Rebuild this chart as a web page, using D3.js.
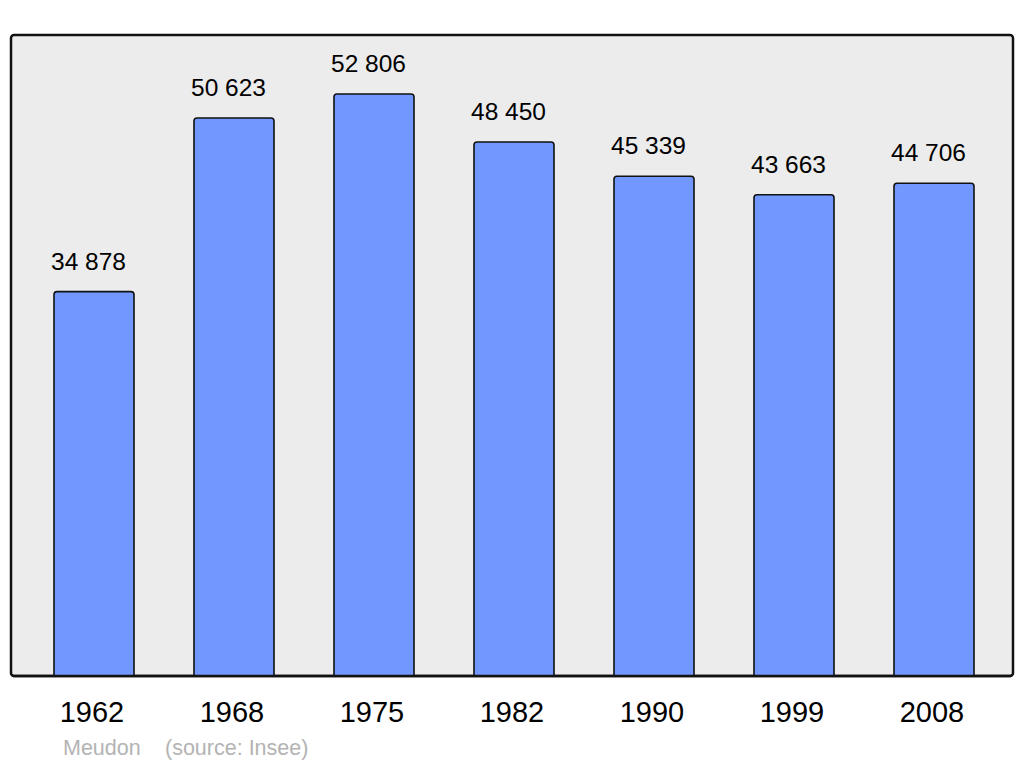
<!DOCTYPE html>
<html><head><meta charset="utf-8">
<script src="https://cdn.jsdelivr.net/npm/d3@7"></script>
<style>body{margin:0;background:#fff}svg{display:block}</style>
</head><body>
<script>
const years = ["1962","1968","1975","1982","1990","1999","2008"];
const population = [34878, 50623, 52806, 48450, 45339, 43663, 44706];
const valueLabels = ["34 878","50 623","52 806","48 450","45 339","43 663","44 706"];
const townName = "Meudon";
const sourceText = "(source: Insee)";

const W = 1024, H = 765;
const svg = d3.select("body").append("svg").attr("width", W).attr("height", H);
const font = "'Liberation Sans', Arial, sans-serif";

const panel = {x0: 11, x1: 1013, y0: 35, y1: 676};
svg.append("rect").attr("x", panel.x0).attr("y", panel.y0)
  .attr("width", panel.x1 - panel.x0).attr("height", panel.y1 - panel.y0)
  .attr("rx", 3).attr("fill", "#ececec").attr("stroke", "#111").attr("stroke-width", 2.5);

const x = d3.scaleBand().domain(years).range([24, 1004]).paddingInner(0.4286).paddingOuter(0.2143);
const y = d3.scaleLinear().domain([0, 58160]).range([panel.y1, panel.y0]);

const bw = x.bandwidth();
const r = 3;
function barPath(d, i) {
  const x0 = x(years[i]), x1 = x0 + bw, yt = y(d), yb = y(0);
  return `M${x0},${yb} L${x0},${yt + r} Q${x0},${yt} ${x0 + r},${yt} L${x1 - r},${yt} Q${x1},${yt} ${x1},${yt + r} L${x1},${yb}`;
}
svg.append("g").selectAll("path").data(population).join("path")
  .attr("d", barPath).attr("fill", "#7298ff").attr("stroke", "#111").attr("stroke-width", 1.6);

svg.append("g").selectAll("text").data(population).join("text")
  .attr("x", (d, i) => x(years[i]) + bw / 2 - 5.5).attr("y", d => y(d) - 22)
  .attr("text-anchor", "middle").attr("font-family", font).attr("font-size", 24.5).attr("fill", "#000")
  .text((d, i) => valueLabels[i]);

svg.append("line").attr("x1", panel.x0 + 2).attr("x2", panel.x1 - 2).attr("y1", panel.y1).attr("y2", panel.y1)
  .attr("stroke", "#111").attr("stroke-width", 2.5);

svg.append("g").selectAll("text").data(years).join("text")
  .attr("x", d => x(d) + bw / 2 - 2).attr("y", 722)
  .attr("text-anchor", "middle").attr("font-family", font).attr("font-size", 29).attr("fill", "#000")
  .text(d => d);

svg.append("text").attr("x", 63).attr("y", 755).attr("font-family", font).attr("font-size", 21.5)
  .attr("fill", "#b3b3b3").text(townName);
svg.append("text").attr("x", 165).attr("y", 755).attr("font-family", font).attr("font-size", 21.5)
  .attr("fill", "#b3b3b3").text(sourceText);
</script>
</body></html>
